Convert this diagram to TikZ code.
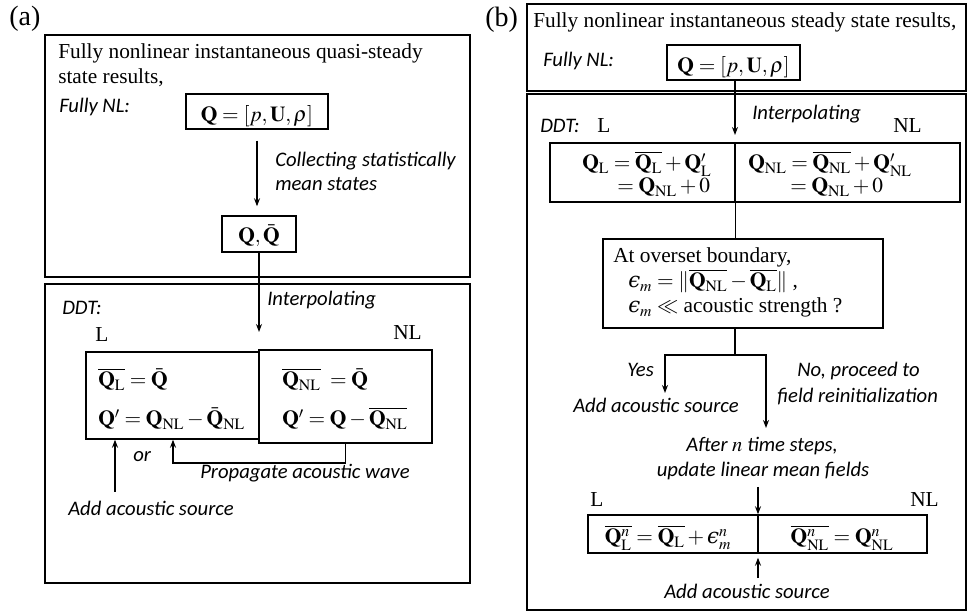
\documentclass[tikz,border=0pt]{standalone}
\usepackage{amsmath}
\usepackage{mathptmx}
\usepackage{fontspec}
\setmainfont{Liberation Serif}
\newfontfamily\labfont{Carlito}
\newfontfamily\epsfont{DejaVu Serif}
\newcommand{\myeps}{\text{\epsfont\itshape ϵ}}
\usetikzlibrary{fit,arrows.meta,calc}
\tikzset{
 outer/.style={draw, line width=1.9pt, inner sep=0pt},
 ibox/.style={draw, line width=1.1pt, inner sep=0pt},
 conn/.style={line width=0.9pt},
 arr/.style={conn, -{Stealth[length=6pt,width=4.5pt]}},
 serif/.style={inner sep=0pt, anchor=base west, font=\fontsize{16}{19}\selectfont},
 lab/.style={inner sep=0pt, anchor=base west, font=\labfont\itshape\fontsize{15.5}{18}\selectfont},
 eq/.style={inner sep=0pt, anchor=base west, font=\fontsize{16}{19}\selectfont},
 plabel/.style={inner sep=0pt, anchor=base west, font=\fontsize{21}{25}\selectfont},
}
\begin{document}
\begin{tikzpicture}[x=0.75pt, y=-0.75pt]
\fill[white] (0,0) rectangle (968,616);
\useasboundingbox (0,0) rectangle (968,616);

% ---------------- panel (a) ----------------
\node[plabel] (la) at (9,26) {(a)};
\node[outer, fit={(45,35) (470,277)}] (A1) {};
\node[serif] (a1t1) at (58,59) {Fully nonlinear instantaneous quasi-steady};
\node[serif] (a1t2) at (58,84) {state results,};
\node[lab] (a1nl) at (59,113) {Fully NL:};
\node[ibox, fit={(186,94) (328,129)}] (qa) {};
\node[eq, anchor=base] (qat) at (257,122) {$\mathbf{Q}=[p,\mathbf{U},\rho]$};
\node[lab] (colA) at (275,167) {Collecting statistically};
\node[lab] (colB) at (275,191) {mean states};
\node[ibox, fit={(222,216) (296,252)}] (qqa) {};
\node[eq, anchor=base] (qqat) at (259,243) {$\mathbf{Q},\bar{\mathbf{Q}}$};
\draw[arr, shorten <=8.25pt, shorten >=6.75pt] (qa.south) -- (qa.south |- qqa.north);

\node[outer, fit={(45,284) (470,583)}] (A2) {};
\coordinate (ia) at (259,332);
\draw[arr] (qqa.south) -- (ia);
\node[lab] (intA) at (267,306) {Interpolating};
\node[lab] (ddtA) at (62,315) {DDT:};
\node[serif] (LA) at (95,342) {L};
\node[serif] (NLA) at (393,340) {NL};
\node[ibox, fit={(86,352) (259,439)}] (lba) {};
\node[ibox, fit={(259,350) (432,443)}] (rba) {};
\node[eq] (lba1) at (98,387) {$\overline{\mathbf{Q}_\mathrm{L}}=\bar{\mathbf{Q}}$};
\node[eq] (lba2) at (98,426) {$\mathbf{Q}'=\mathbf{Q}_\mathrm{NL}-\bar{\mathbf{Q}}_\mathrm{NL}$};
\node[eq] (rba1) at (282,387) {$\overline{\mathbf{Q}_\mathrm{NL}}\;=\bar{\mathbf{Q}}$};
\node[eq] (rba2) at (282,426) {$\mathbf{Q}'=\mathbf{Q}-\overline{\mathbf{Q}_\mathrm{NL}}$};
\coordinate (sa) at (115,492);
\draw[arr] (sa) -- (sa |- lba.south);
\coordinate (pa) at (173,463);
\draw[arr] (rba.south) |- (pa) -- (pa |- lba.south);
\node[lab] (orA) at (133,462) {or};
\node[lab] (propA) at (200,479) {Propagate acoustic wave};
\node[lab] (srcA) at (68,516) {Add acoustic source};

% ---------------- panel (b) ----------------
\node[plabel] (lb) at (485,27) {(b)};
\node[outer, fit={(527,4) (966,91)}] (B1) {};
\node[serif] (b1t) at (533,28) {Fully nonlinear instantaneous steady state results,};
\node[lab] (b1nl) at (543,67) {Fully NL:};
\node[ibox, fit={(667,45) (800,80)}] (qb) {};
\node[eq, anchor=base] (qbt) at (733.5,73) {$\mathbf{Q}=[p,\mathbf{U},\rho]$};

\node[outer, fit={(527,94) (966,610)}] (B2) {};
\coordinate (ib) at (735,135);
\draw[arr] (qb.south -| ib) -- (ib);
\node[lab] (intB) at (752,120) {Interpolating};
\node[lab] (ddtB) at (540,133) {DDT:};
\node[serif] (LB) at (597,133) {L};
\node[serif] (NLB) at (893,133) {NL};
\node[ibox, fit={(550,143) (735,202)}] (tbl) {};
\node[ibox, fit={(735,143) (960,202)}] (tbr) {};
\node[eq] (tbl1) at (582,170) {$\mathbf{Q}_\mathrm{L}=\overline{\mathbf{Q}_\mathrm{L}}+\mathbf{Q}'_\mathrm{L}$};
\node[eq] (tbl2) at (617,193) {$=\mathbf{Q}_\mathrm{NL}+0$};
\node[eq] (tbr1) at (748,170) {$\mathbf{Q}_\mathrm{NL}=\overline{\mathbf{Q}_\mathrm{NL}}+\mathbf{Q}'_\mathrm{NL}$};
\node[eq] (tbr2) at (790,193) {$=\mathbf{Q}_\mathrm{NL}+0$};

\node[ibox, fit={(603,239) (883,328)}] (chk) {};
\draw[conn] (tbl.south east) -- (tbl.south east |- chk.north);
\node[serif] (chk1) at (613,263) {At overset boundary,};
\node[eq] (chk2) at (628,288) {$\myeps_m=\|\overline{\mathbf{Q}_\mathrm{NL}}-\overline{\mathbf{Q}_\mathrm{L}}\|$ ,};
\node[eq] (chk3) at (628,313) {$\myeps_m\ll$ acoustic strength ?};
\coordinate (br) at (735,355);
\draw[conn] (chk.south -| br) -- (br);
\coordinate (ye) at (665,393);
\coordinate (ne) at (766,428);
\draw[arr] (br) -| (ye);
\draw[arr] (br) -| (ne);
\node[lab] (yes) at (627,377) {Yes};
\node[lab] (srcB1) at (573,413) {Add acoustic source};
\node[lab] (no1) at (797,377) {No, proceed to};
\node[lab] (no2) at (777,403) {field reinitialization};
\node[lab, anchor=base] (aft1) at (762,452) {After $n$ time steps,};
\node[lab, anchor=base] (aft2) at (763,477) {update linear mean fields};
\coordinate (ua) at (758,487);
\node[ibox, fit={(588,515) (758,553)}] (bbl) {};
\node[ibox, fit={(758,515) (927,553)}] (bbr) {};
\draw[arr] (ua) -- (ua |- bbl.north);
\node[serif] (LB2) at (590,507) {L};
\node[serif] (NLB2) at (910,507) {NL};
\node[eq, anchor=base] (bbl1) at (668,544) {$\overline{\mathbf{Q}^n_\mathrm{L}}=\overline{\mathbf{Q}_\mathrm{L}}+\myeps^n_m$};
\node[eq, anchor=base] (bbr1) at (842,544) {$\overline{\mathbf{Q}^n_\mathrm{NL}}=\mathbf{Q}^n_\mathrm{NL}$};
\coordinate (sb) at (758,578);
\draw[arr, shorten >=3pt] (sb) -- (sb |- bbl.south);
\node[lab, anchor=base] (srcB2) at (747,598) {Add acoustic source};
\end{tikzpicture}
\end{document}
